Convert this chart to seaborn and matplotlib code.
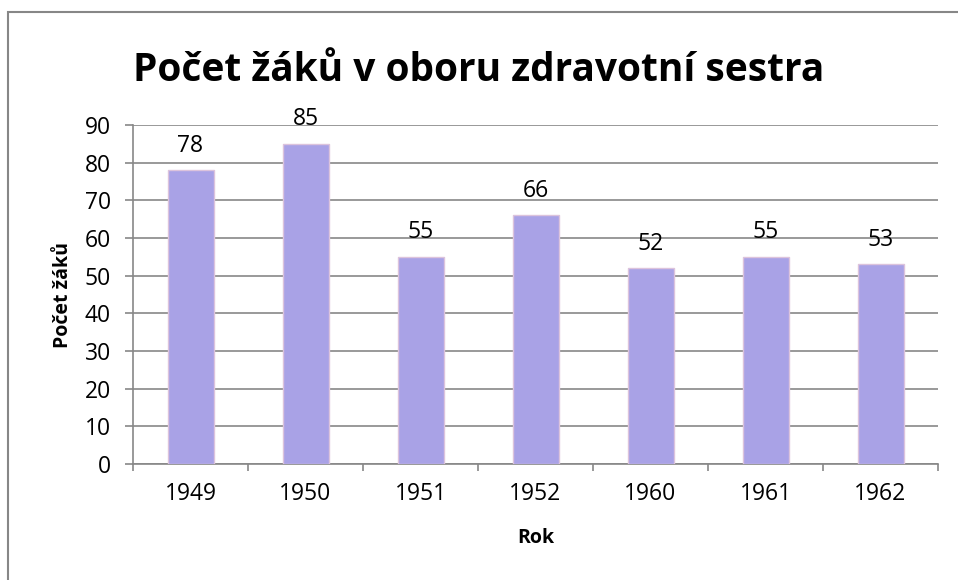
import seaborn as sns
import matplotlib.pyplot as plt
import matplotlib.patches as mpatches
import pandas as pd

# data
roky = ['1949', '1950', '1951', '1952', '1960', '1961', '1962']
pocet = [78, 85, 55, 66, 52, 55, 53]

df = pd.DataFrame({'Rok': roky, 'Pocet': pocet})

sns.set_style('white')
plt.rcParams['font.family'] = ['Open Sans', 'DejaVu Sans']
plt.rcParams['text.color'] = 'black'
plt.rcParams['axes.labelcolor'] = 'black'
plt.rcParams['xtick.labelcolor'] = 'black'
plt.rcParams['ytick.labelcolor'] = 'black'

fig = plt.figure(figsize=(9.58, 5.8), dpi=100)
ax = fig.add_axes([133 / 958, 1 - 464 / 580, 805 / 958, 339 / 580])

sns.barplot(data=df, x='Rok', y='Pocet', color='#a9a2e6', saturation=1,
            width=0.4, edgecolor='#dcc3dc', linewidth=1, ax=ax, zorder=3)

ax.set_ylim(0, 90)
ax.set_xlim(-0.5, len(roky) - 0.5)
ax.set_yticks(range(0, 91, 10))
ax.yaxis.grid(True, color='#878787', linewidth=1.2, zorder=0)
ax.set_axisbelow(True)

for s in ['top', 'right']:
    ax.spines[s].set_visible(False)
for s in ['left', 'bottom']:
    ax.spines[s].set_color('#878787')
    ax.spines[s].set_linewidth(1.2)

# x ticks on category boundaries, labels at centres
ax.set_xticks([i - 0.5 for i in range(len(roky) + 1)])
ax.set_xticklabels([])
ax.set_xticks(range(len(roky)), minor=True)
ax.set_xticklabels(roky, minor=True)
ax.tick_params(axis='x', which='major', length=5, color='#878787', width=1.2, direction='out')
ax.tick_params(axis='x', which='minor', length=0, pad=13, labelsize=16.5)
ax.tick_params(axis='y', length=6, color='#878787', width=1.2, direction='out', labelsize=16.5, pad=10)
ax.tick_params(bottom=True, left=True)

for i, v in enumerate(pocet):
    ax.annotate(str(v), (i, v), xytext=(0, 9), textcoords='offset points',
                ha='center', va='bottom', fontsize=16.5)

ax.set_xlabel('Rok', fontsize=14, fontweight='bold', labelpad=16)
ax.set_ylabel('Počet žáků', fontsize=14, fontweight='bold', labelpad=8)

fig.text(0.5, 0.878, 'Počet žáků v oboru zdravotní sestra', ha='center', va='center',
         fontsize=28, fontweight='bold')

# outer frame
fig.patches.append(mpatches.Rectangle((8 / 958, -0.05), 1.1, 1 - 12 / 580 + 0.05,
                                      transform=fig.transFigure, fill=False,
                                      edgecolor='#878787', linewidth=1.5))

plt.savefig('out.png', dpi=100)
